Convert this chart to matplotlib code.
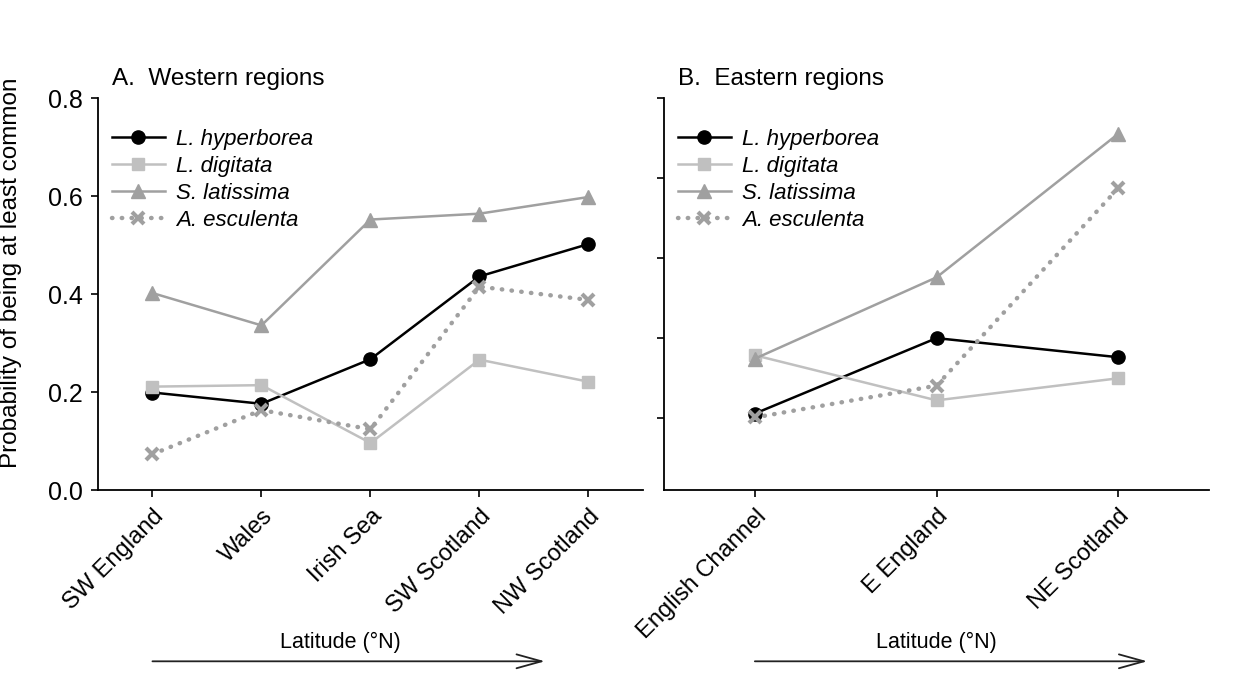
import matplotlib.pyplot as plt

plt.rcParams['font.family'] = ['Liberation Sans', 'DejaVu Sans']

# ---- data ----
species = ["L. hyperborea", "L. digitata", "S. latissima", "A. esculenta"]

west_regions = ["SW England", "Wales", "Irish Sea", "SW Scotland", "NW Scotland"]
west_hyperborea = [0.199, 0.176, 0.267, 0.436, 0.502]
west_digitata = [0.211, 0.214, 0.096, 0.266, 0.221]
west_latissima = [0.402, 0.336, 0.552, 0.564, 0.598]
west_esculenta = [0.073, 0.163, 0.124, 0.415, 0.388]

east_regions = ["English Channel", "E England", "NE Scotland"]
east_hyperborea = [0.156, 0.310, 0.271]
east_digitata = [0.275, 0.183, 0.228]
east_latissima = [0.268, 0.434, 0.727]
east_esculenta = [0.148, 0.213, 0.616]

# tick marks on the right panel (unlabelled)
east_yticks = [0.147, 0.31, 0.473, 0.637, 0.8]

STYLES = [
    dict(color="black", lw=1.8, marker="o", ms=9.5, ls="-"),
    dict(color="#c0c0c0", lw=1.8, marker="s", ms=8.5, ls="-"),
    dict(color="#a0a0a0", lw=1.8, marker="^", ms=10, ls="-"),
    dict(color="#a0a0a0", lw=3.2, marker="x", ms=8.5, mew=3, ls=(0, (0.1, 2.1)),
         dash_capstyle="round"),
]


def draw_panel(ax, regions, series, title, lat_end, lat_text_x):
    xs = list(range(len(regions)))
    for name, vals, st in zip(species, series, STYLES):
        ax.plot(xs, vals, label=name, clip_on=False, **st)

    ax.set_xlim(-0.5, len(regions) - 0.5)
    ax.set_ylim(0, 0.8)
    ax.spines["top"].set_visible(False)
    ax.spines["right"].set_visible(False)
    ax.spines["left"].set_linewidth(1.3)
    ax.spines["bottom"].set_linewidth(1.3)
    ax.tick_params(length=5, width=1.2, direction="out")
    ax.tick_params(axis="y", pad=6, labelsize=18)

    ax.set_xticks(xs)
    ax.set_xticklabels(regions, rotation=45, ha="right", rotation_mode="anchor",
                       fontsize=17)
    ax.tick_params(axis="x", pad=6)

    ax.text(0.025, 1.048, title, transform=ax.transAxes, fontsize=17.5,
            ha="left", va="center")

    leg = ax.legend(loc="upper left", bbox_to_anchor=(0.025, 0.922), frameon=False,
                    fontsize=16, handlelength=2.4, handletextpad=0.5,
                    labelspacing=0.27, borderpad=0, borderaxespad=0)
    for t in leg.get_texts():
        t.set_fontstyle("italic")

    # latitude arrow below the tick labels
    ax.annotate("", xy=(lat_end, -0.437), xytext=(0, -0.437),
                xycoords=("data", "axes fraction"),
                textcoords=("data", "axes fraction"),
                arrowprops=dict(arrowstyle="->,head_length=1.8,head_width=0.5",
                                lw=1.3, color="#222222", shrinkA=0, shrinkB=0),
                annotation_clip=False)
    ax.text(lat_text_x, -0.39, "Latitude (\u00b0N)", transform=ax.get_xaxis_transform(),
            ha="center", va="center", fontsize=15.5)


fig = plt.figure(figsize=(12.43, 6.77), dpi=100)
ax1 = fig.add_axes([0.0788, 0.2762, 0.4385, 0.5790])
ax2 = fig.add_axes([0.5342, 0.2762, 0.4385, 0.5790])

draw_panel(ax1, west_regions,
           [west_hyperborea, west_digitata, west_latissima, west_esculenta],
           "A.  Western regions", 3.6, 1.72)
ax1.set_yticks([0.0, 0.2, 0.4, 0.6, 0.8])
ax1.set_yticklabels(["0.0", "0.2", "0.4", "0.6", "0.8"])
ax1.set_ylabel("Probability of being at least common", fontsize=17.5)
ax1.yaxis.set_label_coords(-0.14, 0.555)

draw_panel(ax2, east_regions,
           [east_hyperborea, east_digitata, east_latissima, east_esculenta],
           "B.  Eastern regions", 2.16, 1.0)
ax2.set_yticks(east_yticks)
ax2.set_yticklabels([])

fig.savefig("out.png", dpi=100, facecolor="white")
